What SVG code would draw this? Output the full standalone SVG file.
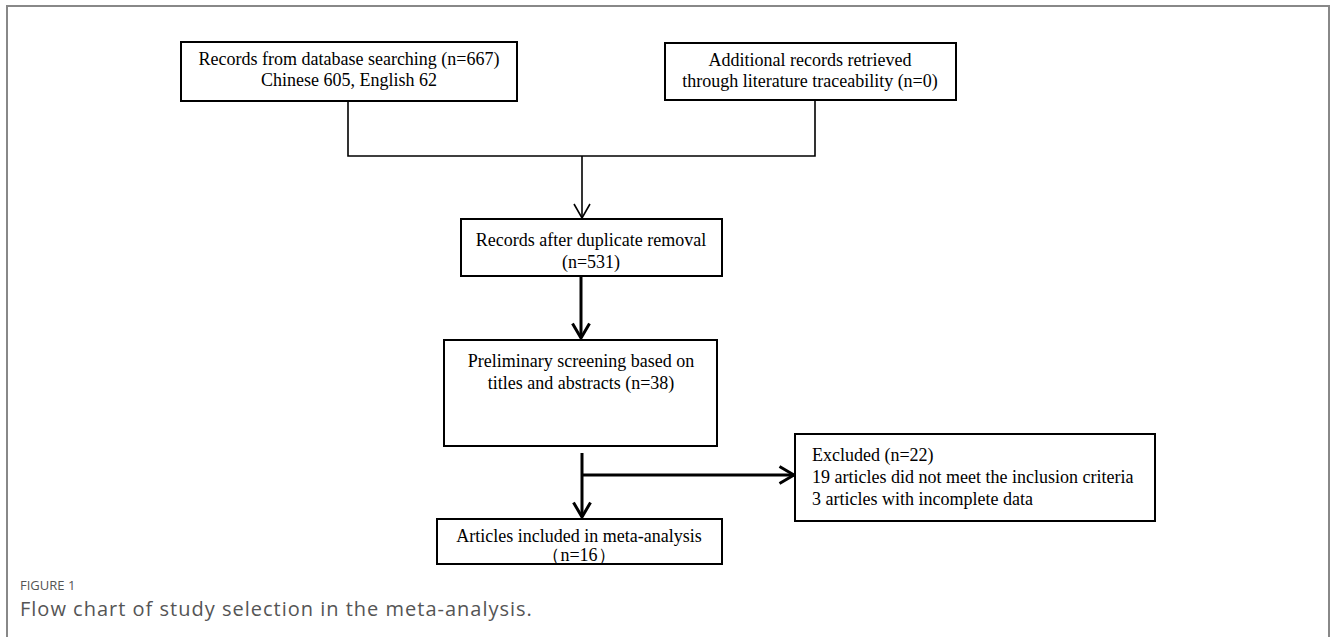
<svg xmlns="http://www.w3.org/2000/svg" width="1330" height="637" viewBox="0 0 1330 637">
<style>
.box{fill:#fff;stroke:#000;stroke-width:2}
.t{font-family:"Liberation Serif","Times New Roman",serif;font-size:18px;fill:#000}
.c{text-anchor:middle}
.thin{fill:none;stroke:#000;stroke-width:1.6}
.thick{fill:none;stroke:#000;stroke-width:3}
.cap1{font-family:"Open Sans","Noto Sans",sans-serif;font-size:13px;fill:#555}
.cap2{font-family:"Open Sans","Noto Sans",sans-serif;font-size:20px;letter-spacing:1px;fill:#555}
</style>
<defs>
<marker id="ah1" viewBox="0 0 16 18" refX="15" refY="9" markerWidth="16" markerHeight="18" markerUnits="userSpaceOnUse" orient="auto">
<path d="M1,1 L15,9 L1,17" fill="none" stroke="#000" stroke-width="1.6"/>
</marker>
<marker id="ah2" viewBox="0 0 18 20" refX="16" refY="10" markerWidth="18" markerHeight="20" markerUnits="userSpaceOnUse" orient="auto">
<path d="M1.5,1.5 L16,10 L1.5,18.5" fill="none" stroke="#000" stroke-width="3"/>
</marker>
</defs>
<rect width="1330" height="637" fill="#fff"/>
<path d="M7,637 V6 H1329 V637" fill="none" stroke="#888" stroke-width="2"/>

<g id="connectors">
<path class="thin" d="M348,101 V156 H815 V100"/>
<path class="thin" d="M582,156 V218" marker-end="url(#ah1)"/>
<path class="thick" d="M581,276 V338" marker-end="url(#ah2)"/>
<path class="thick" d="M582,453 V517" marker-end="url(#ah2)"/>
<path class="thick" d="M582,475 H794" marker-end="url(#ah2)"/>
</g>

<g id="n1">
<rect class="box" x="181" y="42" width="336" height="59"/>
<text class="t c" x="349" y="65">Records from database searching (n=667)</text>
<text class="t c" x="349" y="86">Chinese 605, English 62</text>
</g>
<g id="n2">
<rect class="box" x="665" y="43" width="291" height="57"/>
<text class="t c" x="810" y="66">Additional records retrieved</text>
<text class="t c" x="810" y="87">through literature traceability (n=0)</text>
</g>
<g id="n3">
<rect class="box" x="461" y="219" width="261" height="57"/>
<text class="t c" x="591" y="246">Records after duplicate removal</text>
<text class="t c" x="591" y="268">(n=531)</text>
</g>
<g id="n4">
<rect class="box" x="444" y="340" width="273" height="106"/>
<text class="t c" x="581" y="367">Preliminary screening based on</text>
<text class="t c" x="581" y="389">titles and abstracts (n=38)</text>
</g>
<g id="n5">
<rect class="box" x="437" y="519" width="285" height="45"/>
<text class="t c" x="579" y="542">Articles included in meta-analysis</text>
<text class="t c" x="579" y="561">（n=16）</text>
</g>
<g id="n6">
<rect class="box" x="795" y="434" width="360" height="87"/>
<text class="t" x="812" y="461">Excluded (n=22)</text>
<text class="t" x="812" y="483">19 articles did not meet the inclusion criteria</text>
<text class="t" x="812" y="505">3 articles with incomplete data</text>
</g>

<text class="cap1" x="20" y="590">FIGURE 1</text>
<text class="cap2" x="20" y="616">Flow chart of study selection in the meta-analysis.</text>
</svg>
